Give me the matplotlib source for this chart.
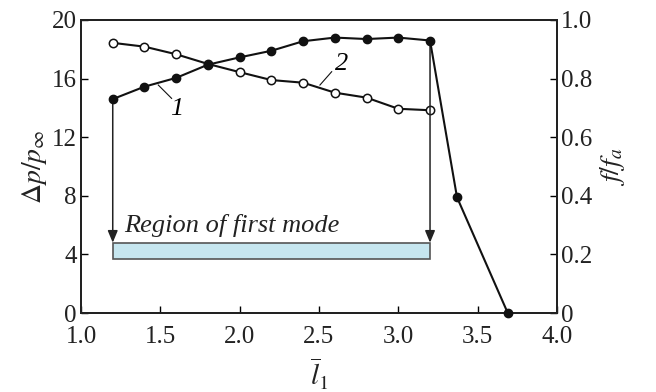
import matplotlib.pyplot as plt
from matplotlib.patches import Rectangle

plt.rcParams["font.family"] = ["Liberation Serif", "DejaVu Serif"]
plt.rcParams["mathtext.fontset"] = "stix"

# Curve 1 (filled): pressure amplitude, left axis
l1_filled = [1.2, 1.4, 1.6, 1.8, 2.0, 2.2, 2.4, 2.6, 2.8, 3.0, 3.2, 3.37, 3.69]
dp_filled = [14.6, 15.45, 16.05, 16.95, 17.45, 17.9, 18.55, 18.8, 18.7, 18.8, 18.6, 7.9, 0.0]

# Curve 2 (open): frequency ratio, right axis
l1_open = [1.2, 1.4, 1.6, 1.8, 2.0, 2.2, 2.4, 2.6, 2.8, 3.0, 3.2]
f_open = [0.922, 0.909, 0.883, 0.850, 0.822, 0.795, 0.786, 0.752, 0.735, 0.697, 0.692]

# Region of first mode
region_x = [1.2, 3.2]
region_y = [3.7, 4.8]

fig = plt.figure(figsize=(6.56, 3.92), dpi=100)
ax = fig.add_axes([0.1235, 0.2015, 0.7255, 0.7475])
ax2 = ax.twinx()

ax.set_xlim(1.0, 4.0)
ax.set_ylim(0, 20)
ax2.set_ylim(0, 1.0)

ax.set_xticks([1.0, 1.5, 2.0, 2.5, 3.0, 3.5, 4.0])
ax.set_xticklabels(["1.0", "1.5", "2.0", "2.5", "3.0", "3.5", "4.0"])
ax.set_yticks([0, 4, 8, 12, 16, 20])
ax2.set_yticks([0, 0.2, 0.4, 0.6, 0.8, 1.0])
ax2.set_yticklabels(["0", "0.2", "0.4", "0.6", "0.8", "1.0"])

for a in (ax, ax2):
    a.tick_params(direction="in", length=5, width=1, labelsize=18, pad=3,
                  labelcolor="#222222")
    for s in a.spines.values():
        s.set_linewidth(1.4)
        s.set_color("#222222")
ax.tick_params(axis="x", pad=9)

ax.set_ylabel(r"$\Delta p/p_\infty$", fontsize=20, labelpad=2, color="#222222")
ax2.set_ylabel(r"$f/f_a$", fontsize=20, labelpad=4, color="#222222")
ax.set_xlabel(r"$\overline{l}_1$", fontsize=21, labelpad=6, color="#222222")

# region rectangle
rect = Rectangle((region_x[0], region_y[0]), region_x[1] - region_x[0],
                 region_y[1] - region_y[0], facecolor="#c6e6ef",
                 edgecolor="#555555", linewidth=1.2, zorder=2)
ax.add_patch(rect)

# arrows from first-mode boundaries down to the region
for i in (0, 10):
    ax.annotate("", xy=(l1_filled[i], region_y[1]),
                xytext=(l1_filled[i], dp_filled[i]),
                arrowprops=dict(arrowstyle="-|>,head_width=0.25,head_length=0.6",
                                color="#222222", lw=1.1,
                                mutation_scale=12, shrinkA=0, shrinkB=0),
                zorder=2)

ax.text(1.27, 5.5, "Region of first mode", fontsize=19, style="italic",
        color="#222222")

# curves
ax2.plot(l1_open, f_open, color="#111111", lw=1.5, marker="o", markersize=6,
         markerfacecolor="white", markeredgecolor="#111111",
         markeredgewidth=1.1, zorder=3)
ax.set_zorder(ax2.get_zorder() + 1)
ax.patch.set_visible(False)
ax.plot(l1_filled, dp_filled, color="#111111", lw=1.5, marker="o",
        markersize=6, markerfacecolor="#111111", zorder=4, clip_on=False)

# curve labels with leader lines
ax.plot([1.487, 1.571], [15.56, 14.65], color="#111111", lw=0.8)
ax.text(1.6, 13.9, "1", fontsize=19, style="italic", ha="center", va="center")
ax.plot([2.506, 2.58], [15.56, 16.47], color="#111111", lw=0.8)
ax.text(2.64, 17.0, "2", fontsize=19, style="italic", ha="center", va="center")

fig.savefig("out.png", dpi=100)
